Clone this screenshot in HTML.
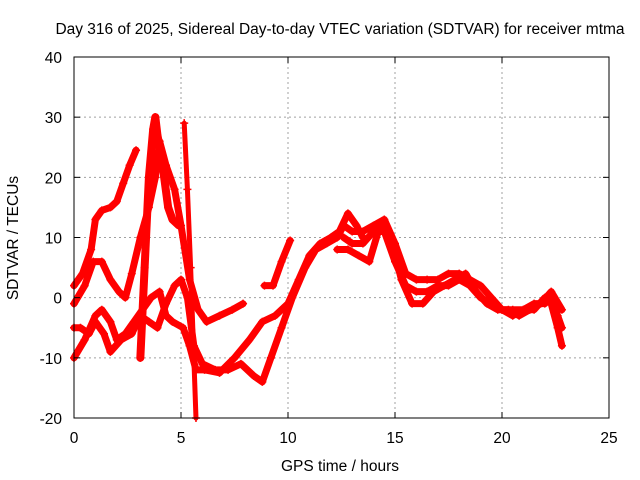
<!DOCTYPE html>
<html><head><meta charset="utf-8"><style>
body{margin:0;background:#fff}
svg{display:block;font-family:"Liberation Sans",sans-serif}
</style></head><body>
<svg id="chart" width="640" height="480">
<text x="340" y="34" font-size="15.5" text-anchor="middle">Day 316 of 2025, Sidereal Day-to-day VTEC variation (SDTVAR) for receiver mtma</text>
<text x="340" y="471" font-size="15.5" text-anchor="middle">GPS time / hours</text>
<text x="18" y="238" font-size="15.5" text-anchor="middle" transform="rotate(-90 18 238)">SDTVAR / TECUs</text>
<g id="grid"></g><g id="marks"></g><g id="axes"></g>
</svg>
<script>
const xTicks=[0,5,10,15,20,25];
const yTicks=[-20,-10,0,10,20,30,40];
const t1h=[0,0.4,0.8,1.0,1.3,1.7,2.0,2.3,2.6,2.9];
const t1v=[2,4,8,13,14.5,15,16,19,22,24.5];
const t2h=[0,0.5,0.9,1.3,1.7,2.1,2.4,2.7,3.1,3.5,3.8,4.0,4.3,4.7,5.0,5.4,5.8,6.2,6.8,7.4,7.9];
const t2v=[-1,2,6,6,3,1,0,4,10,15,20,26,22,18,12,3,-2,-4,-3,-2,-1];
const t3h=[3.1,3.3,3.5,3.7,3.8,3.9,4.1,4.4,4.6,4.9];
const t3v=[-10,5,20,28,30,27,23,15,13,12];
const t4h=[0,0.3,0.7,1.0,1.4,1.7,2.2,2.7,3.1,3.5,3.9,4.3,4.7,5.0,5.3,5.6,6.0,6.6,7.2,7.8,8.4,8.8,9.2,9.7,10.2,10.8,11.3,11.8,12.3,12.6];
const t4v=[-5,-5,-6,-4,-6,-9,-7,-6,-3,-4,-5,-1,2,3,0,-8,-11,-12,-12,-11,-13,-14,-10,-5,0,5,8,9,10,12];
const t5h=[0,0.5,1.0,1.3,1.7,2.0,2.4,2.8,3.2,3.6,4.0,4.3,4.6,5.1,5.4,5.7,6.1,6.8,7.5,8.2,8.8,9.4,10.0,10.5,11.0,11.5,12.0,12.4,12.8,13.2,13.5];
const t5v=[-10,-7,-3,-2,-4,-7,-6,-4,-2,0,1,-3,-4,-5,-8,-12,-12,-12.5,-10,-7,-4,-3,-1,3,7,9,10,11,14,12,10];
const t6h=[8.9,9.3,9.7,10.1];
const t6v=[2,2,6,9.5];
const t7h=[12.6,13.0,13.5,14.0,14.5,15.0,15.5,16.0,16.5,17.0,17.5,18.0,18.5,19.0,19.5,20.0,20.5,21.0,21.5,22.0,22.3,22.6,22.8];
const t7v=[12,11,11,12,13,9,4,3,3,3,4,4,3,2,0,-2,-2,-2,-1,-1,0,-3,-5];
const t8v=[10,9,9,11,11,6,2,1,1,2,2,3,2,0,-1,-2,-3,-2,-2,0,-1,-5,-8];
const t9h=[12.3,12.8,13.3,13.8,14.3,14.8,15.3,15.8,16.3,16.8,17.3,17.8,18.3,18.8,19.3,19.8,20.3,20.8,21.3,21.8,22.3,22.8];
const t9v=[8,8,7,6,12,10,3,-1,-1,1,2,3,4,1,-1,-2,-2,-3,-2,-1,1,-2];
const t10h=[5.15,5.3,5.45,5.6,5.7];
const t10v=[29,18,5,-10,-20];
const X0=74,X1=609,Y0=57,Y1=418;
const sx=h=>X0+(h-0)/25*(X1-X0);
const sy=v=>Y0+(40-v)/60*(Y1-Y0);
const NS='http://www.w3.org/2000/svg';
function mk(tag,attrs,parent){const e=document.createElementNS(NS,tag);for(const k in attrs)e.setAttribute(k,attrs[k]);parent.appendChild(e);return e;}
const grid=document.getElementById('grid'),axes=document.getElementById('axes'),marks=document.getElementById('marks');
xTicks.forEach(t=>{
 if(t>0&&t<25){const l=mk('line',{x1:sx(t),x2:sx(t),y1:Y0,y2:Y1,stroke:'#a0a0a0','stroke-dasharray':'2,3'},grid);
 
 }
 const tx=mk('text',{x:sx(t),y:Y1+25,'font-size':15.5,'text-anchor':'middle'},axes);tx.textContent=t;
 
 
 mk('line',{x1:sx(t),x2:sx(t),y1:Y1,y2:Y1-6,stroke:'#000'},axes);
 mk('line',{x1:sx(t),x2:sx(t),y1:Y0,y2:Y0+6,stroke:'#000'},axes);
});
yTicks.forEach(t=>{
 if(t>-20&&t<40){const l=mk('line',{x1:X0,x2:X1,y1:sy(t),y2:sy(t),stroke:'#a0a0a0','stroke-dasharray':'2,3'},grid);
 
 }
 const tx=mk('text',{x:X0-12,y:sy(t)+6,'font-size':15.5,'text-anchor':'end'},axes);tx.textContent=t;
 
 
 mk('line',{x1:X0,x2:X0+6,y1:sy(t),y2:sy(t),stroke:'#000'},axes);
 mk('line',{x1:X1,x2:X1-6,y1:sy(t),y2:sy(t),stroke:'#000'},axes);
});
const fr=mk('rect',{x:X0,y:Y0,width:X1-X0,height:Y1-Y0,fill:'none',stroke:'#000'},axes);


function track(hs,vs,w){
 const pts=hs.map((h,i)=>sx(h)+','+sy(vs[i])).join(' ');
 const p=mk('polyline',{points:pts,fill:'none',stroke:'#ff0000','stroke-width':w,'stroke-linejoin':'round','stroke-linecap':'round'},marks);
 
 
 hs.forEach((h,i)=>{const x=sx(h),y=sy(vs[i]);
  const m=mk('path',{d:`M${x-4},${y}H${x+4}M${x},${y-4}V${y+4}`,stroke:'#ff0000','stroke-width':1.5},marks);
  
  });
}
track(t1h,t1v,7);track(t2h,t2v,7);track(t3h,t3v,8);track(t4h,t4v,7);track(t5h,t5v,7);
track(t6h,t6v,7);track(t7h,t7v,7);track(t7h,t8v,7);track(t9h,t9v,7);track(t10h,t10v,5);
</script>
</body></html>
